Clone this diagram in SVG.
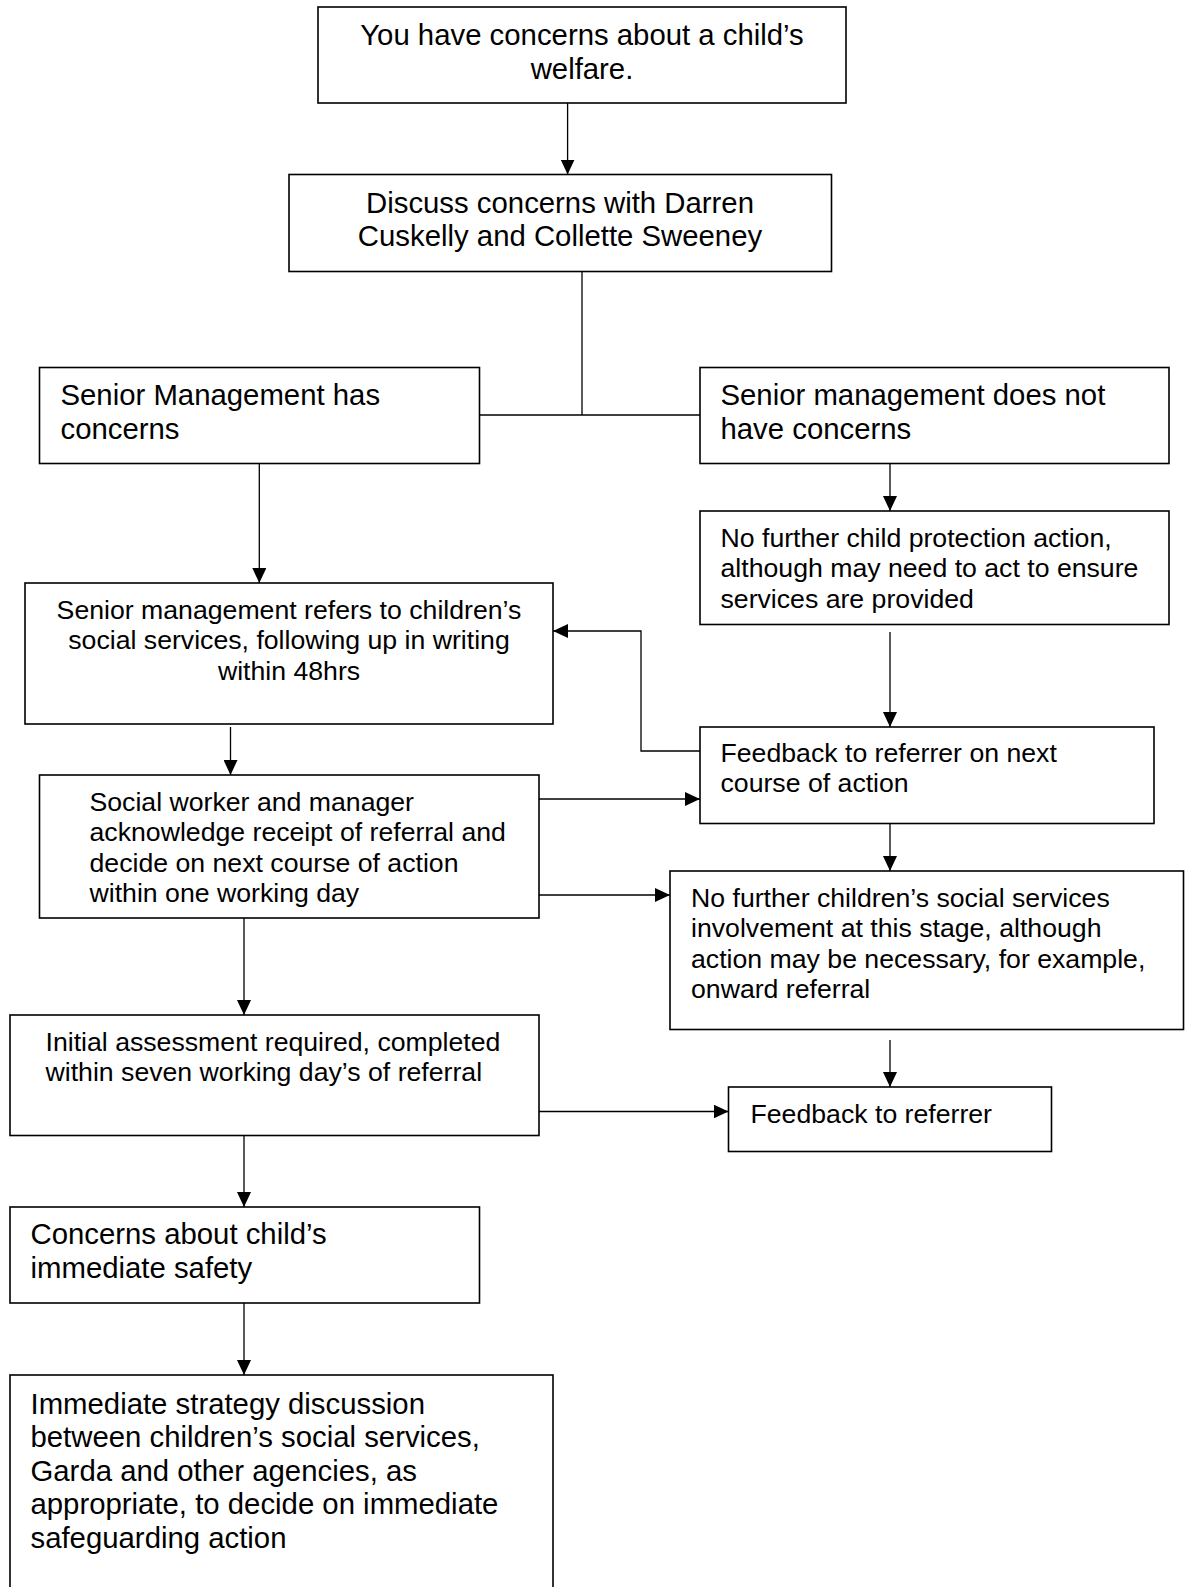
<svg xmlns="http://www.w3.org/2000/svg" width="1185" height="1587" viewBox="0 0 1185 1587">
<style>
.box{fill:#fff;stroke:#000;stroke-width:1.6}
.t{font-family:"Liberation Sans",Arial,sans-serif;fill:#000}
.big{font-size:29.33px}
.sm{font-size:26.67px}
.mid{text-anchor:middle}
.c{fill:none;stroke:#000;stroke-width:1.3}
.a{marker-end:url(#arr)}
</style>
<defs>
<marker id="arr" markerUnits="userSpaceOnUse" markerWidth="15" markerHeight="14" refX="15" refY="7" orient="auto">
<path d="M0,0 L15,7 L0,14 z" fill="#000"/>
</marker>
</defs>
<rect width="1185" height="1587" fill="#fff"/>
<g id="connectors">
<path class="c a" d="M567.6,103 V174.5"/>
<path class="c" d="M582,272 V415"/>
<path class="c" d="M479,415 H700"/>
<path class="c a" d="M259.3,463.5 V583"/>
<path class="c a" d="M890,463.5 V511"/>
<path class="c a" d="M890,632 V727"/>
<path class="c a" d="M700,751 H641 V631 H553"/>
<path class="c a" d="M230.5,727 V775"/>
<path class="c a" d="M539,799 H700"/>
<path class="c a" d="M539,895 H670"/>
<path class="c a" d="M890,823.5 V871"/>
<path class="c a" d="M244,918 V1015"/>
<path class="c a" d="M890,1040 V1087"/>
<path class="c a" d="M539,1111.5 H728.5"/>
<path class="c a" d="M244,1135.5 V1207"/>
<path class="c a" d="M244,1303 V1375"/>
</g>
<g id="n1">
<rect class="box" x="318" y="7" width="528" height="96"/>
<text class="t big mid" x="582" y="45">You have concerns about a child’s</text>
<text class="t big mid" x="582" y="78.5">welfare.</text>
</g>
<g id="n2">
<rect class="box" x="289" y="174.5" width="542.5" height="97"/>
<text class="t big mid" x="560" y="212.5">Discuss concerns with Darren</text>
<text class="t big mid" x="560" y="246">Cuskelly and Collette Sweeney</text>
</g>
<g id="n3">
<rect class="box" x="39.5" y="367.5" width="440" height="96"/>
<text class="t big" x="60.5" y="405">Senior Management has</text>
<text class="t big" x="60.5" y="438.5">concerns</text>
</g>
<g id="n4">
<rect class="box" x="700" y="367.5" width="469" height="96"/>
<text class="t big" x="720.5" y="405">Senior management does not</text>
<text class="t big" x="720.5" y="438.5">have concerns</text>
</g>
<g id="n5">
<rect class="box" x="700" y="511" width="469" height="113.5"/>
<text class="t sm" x="720.5" y="546.5">No further child protection action,</text>
<text class="t sm" x="720.5" y="577">although may need to act to ensure</text>
<text class="t sm" x="720.5" y="607.5">services are provided</text>
</g>
<g id="n6">
<rect class="box" x="25" y="583" width="528" height="141"/>
<text class="t sm mid" x="289" y="618.5">Senior management refers to children’s</text>
<text class="t sm mid" x="289" y="649">social services, following up in writing</text>
<text class="t sm mid" x="289" y="679.5">within 48hrs</text>
</g>
<g id="n7">
<rect class="box" x="700" y="727" width="454" height="96.5"/>
<text class="t sm" x="720.5" y="761.5">Feedback to referrer on next</text>
<text class="t sm" x="720.5" y="792">course of action</text>
</g>
<g id="n8">
<rect class="box" x="39.5" y="775" width="499.5" height="143"/>
<text class="t sm" x="89.5" y="810.5">Social worker and manager</text>
<text class="t sm" x="89.5" y="841">acknowledge receipt of referral and</text>
<text class="t sm" x="89.5" y="871.5">decide on next course of action</text>
<text class="t sm" x="89.5" y="902">within one working day</text>
</g>
<g id="n9">
<rect class="box" x="670" y="871" width="513.5" height="158.5"/>
<text class="t sm" x="691" y="906.5">No further children’s social services</text>
<text class="t sm" x="691" y="937">involvement at this stage, although</text>
<text class="t sm" x="691" y="967.5">action may be necessary, for example,</text>
<text class="t sm" x="691" y="998">onward referral</text>
</g>
<g id="n10">
<rect class="box" x="10" y="1015" width="529" height="120.5"/>
<text class="t sm" x="45.5" y="1050.5">Initial assessment required, completed</text>
<text class="t sm" x="45.5" y="1080.5">within seven working day’s of referral</text>
</g>
<g id="n11">
<rect class="box" x="728.5" y="1087" width="323" height="64.5"/>
<text class="t sm" x="750.5" y="1122.5">Feedback to referrer</text>
</g>
<g id="n12">
<rect class="box" x="10" y="1207" width="469.5" height="96"/>
<text class="t big" x="30.5" y="1244">Concerns about child’s</text>
<text class="t big" x="30.5" y="1277.5">immediate safety</text>
</g>
<g id="n13">
<rect class="box" x="10" y="1375" width="543" height="230"/>
<text class="t big" x="30.5" y="1413.5">Immediate strategy discussion</text>
<text class="t big" x="30.5" y="1447">between children’s social services,</text>
<text class="t big" x="30.5" y="1480.5">Garda and other agencies, as</text>
<text class="t big" x="30.5" y="1514">appropriate, to decide on immediate</text>
<text class="t big" x="30.5" y="1547.5">safeguarding action</text>
</g>
</svg>
